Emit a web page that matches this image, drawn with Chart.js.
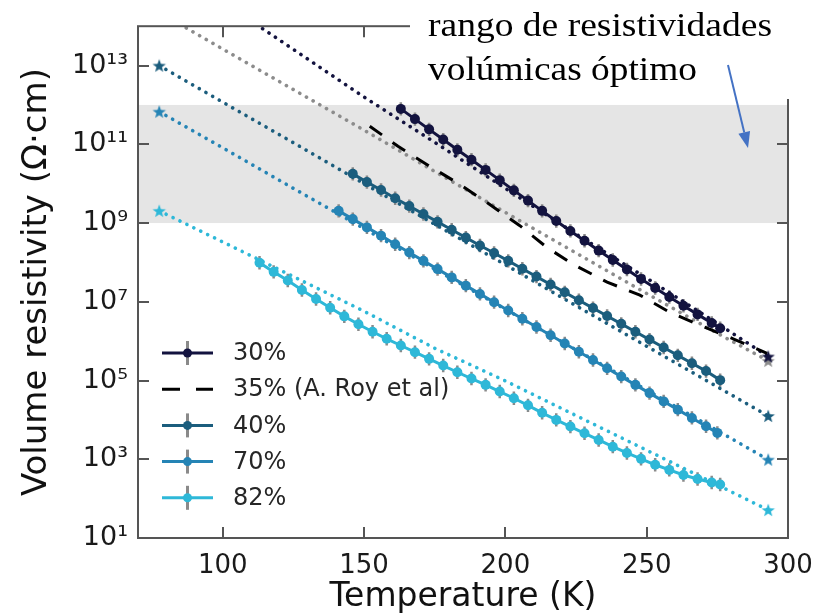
<!DOCTYPE html>
<html>
<head>
<meta charset="utf-8">
<script src="https://cdn.jsdelivr.net/npm/chart.js@4.4.0/dist/chart.umd.min.js"></script>
<style>
  html, body { margin: 0; padding: 0; background: #fff; }
</style>
</head>
<body>
<canvas id="chart" width="829" height="616"></canvas>
<script>
// ============================================================
// Volume resistivity vs temperature (log scale)
// Values are log10(resistivity / Ω·cm).
// ============================================================

// --- measured series (solid line + markers + error bars) ---
const t30   = [163, 168, 173, 178, 183, 188, 193, 198, 203, 208, 213, 218, 223, 228, 233, 238, 243, 248, 253, 258, 263, 268, 273, 276];
const log30 = [11.90, 11.64, 11.38, 11.12, 10.86, 10.61, 10.35, 10.09, 9.83, 9.57, 9.31, 9.05, 8.80, 8.55, 8.30, 8.06, 7.82, 7.58, 7.35, 7.12, 6.90, 6.68, 6.46, 6.33];

const t40   = [146, 151, 156, 161, 166, 171, 176, 181, 186, 191, 196, 201, 206, 211, 216, 221, 226, 231, 236, 241, 246, 251, 256, 261, 266, 271, 276];
const log40 = [10.25, 10.04, 9.84, 9.63, 9.43, 9.23, 9.03, 8.83, 8.63, 8.43, 8.24, 8.04, 7.84, 7.64, 7.44, 7.24, 7.04, 6.84, 6.64, 6.44, 6.24, 6.04, 5.84, 5.64, 5.44, 5.24, 5.01];

const t70   = [141, 146, 151, 156, 161, 166, 171, 176, 181, 186, 191, 196, 201, 206, 211, 216, 221, 226, 231, 236, 241, 246, 251, 256, 261, 266, 271, 275];
const log70 = [9.31, 9.10, 8.89, 8.68, 8.46, 8.25, 8.04, 7.83, 7.62, 7.41, 7.20, 6.99, 6.78, 6.57, 6.36, 6.15, 5.94, 5.73, 5.52, 5.31, 5.10, 4.89, 4.68, 4.47, 4.26, 4.05, 3.84, 3.67];

const t82   = [113, 118, 123, 128, 133, 138, 143, 148, 153, 158, 163, 168, 173, 178, 183, 188, 193, 198, 203, 208, 213, 218, 223, 228, 233, 238, 243, 248, 253, 258, 263, 268, 273, 276];
const log82 = [7.99, 7.76, 7.54, 7.30, 7.07, 6.85, 6.63, 6.43, 6.24, 6.06, 5.89, 5.72, 5.55, 5.38, 5.21, 5.05, 4.89, 4.72, 4.55, 4.37, 4.18, 4.00, 3.83, 3.66, 3.49, 3.32, 3.16, 3.01, 2.86, 2.73, 2.60, 2.50, 2.41, 2.36];

// --- 35% (A. Roy et al), dashed ---
const tRoy   = [152, 162, 172.6, 183, 193.5, 205, 214.7, 224, 236, 247.6, 258, 270, 280.6, 292.6];
const logRoy = [11.46, 10.95, 10.47, 10.02, 9.52, 8.94, 8.38, 7.95, 7.50, 7.17, 6.74, 6.37, 6.06, 5.69];

// --- fitted / extrapolated curves (dotted, stars at the ends) ---
const tFit     = [77.5, 100, 125, 150, 175, 200, 225, 250, 275, 293];
const fit30T   = [105, 113, 125, 150, 175, 200, 225, 250, 275, 293];
const fit30    = [14.37, 13.99, 13.41, 12.20, 11.05, 9.88, 8.72, 7.60, 6.45, 5.61];
const fitRoyT  = [80, 86, 100, 125, 150, 175, 200, 225, 250, 275, 293];
const fitRoy   = [14.25, 14.00, 13.42, 12.39, 11.36, 10.31, 9.27, 8.24, 7.21, 6.20, 5.50];
const fit40    = [13.00, 12.07, 11.04, 10.00, 8.97, 7.94, 6.90, 5.87, 4.84, 4.10];
const fit70    = [11.83, 10.91, 9.88, 8.86, 7.83, 6.81, 5.78, 4.76, 3.73, 2.99];
const fit82    = [9.31, 8.52, 7.64, 6.76, 5.82, 4.99, 4.11, 3.23, 2.35, 1.71];

// --- axes, band, legend ---
const xTicks = [100, 150, 200, 250, 300];
const yTicks = [1e1, 1e3, 1e5, 1e7, 1e9, 1e11, 1e13];
const band = [1e9, 1e12];   // optimal range (grey)
const legendLabels = ['30%', '35% (A. Roy et al)', '40%', '70%', '82%'];

const C30 = '#13133f', C40 = '#1b5d7d', C70 = '#2584b5', C82 = '#2eb8d8', CROY = '#000000', CFIT = '#8c8c8c';
const ERR_FACTOR = 10 ** 0.17;

const pts = (ts, logs) => ts.map((t, i) => ({ x: t, y: 10 ** logs[i] }));

function starImage(color) {
  const c = document.createElement('canvas');
  c.width = c.height = 16;
  const g = c.getContext('2d');
  g.fillStyle = color;
  g.beginPath();
  for (let i = 0; i < 10; i++) {
    const r = i % 2 ? 2.9 : 7;
    const a = -Math.PI / 2 + i * Math.PI / 5;
    g.lineTo(8 + r * Math.cos(a), 8.6 + r * Math.sin(a));
  }
  g.closePath();
  g.fill();
  return c;
}

function measured(data, color) {
  return {
    data, borderColor: color, backgroundColor: color, borderWidth: 3,
    pointRadius: 5, pointBorderWidth: 0, pointBackgroundColor: color,
    errorBars: true, order: 1
  };
}

function fitted(data, color) {
  const star = starImage(color);
  return {
    data, borderColor: color, borderWidth: 3.6, borderDash: [0.1, 7.6], borderCapStyle: 'round',
    pointStyle: star, pointBorderWidth: 0,
    pointRadius: c => (c.dataIndex === 0 || c.dataIndex === c.dataset.data.length - 1 ? 6 : 0),
    order: 2
  };
}

const sup = s => String(s).replace(/\d/g, d => '⁰¹²³⁴⁵⁶⁷⁸⁹'[d]);

// ============================================================
// drawing helpers: band, error bars, spines, legend, annotation
// ============================================================
const decorations = {
  id: 'decorations',
  beforeDatasetsDraw(chart) {
    const { ctx, chartArea: a, scales: { x, y } } = chart;
    const yt = y.getPixelForValue(band[1]), yb = y.getPixelForValue(band[0]);
    ctx.save();
    ctx.fillStyle = '#e5e5e5';
    ctx.fillRect(a.left, yt, a.right - a.left, yb - yt);

    ctx.beginPath();
    ctx.rect(a.left, a.top, a.right - a.left, a.bottom - a.top);
    ctx.clip();
    ctx.strokeStyle = '#8a8a8a';
    ctx.lineWidth = 2.5;
    chart.data.datasets.forEach(ds => {
      if (!ds.errorBars) return;
      ds.data.forEach(p => {
        const px = x.getPixelForValue(p.x);
        ctx.beginPath();
        ctx.moveTo(px, y.getPixelForValue(p.y * ERR_FACTOR));
        ctx.lineTo(px, y.getPixelForValue(p.y / ERR_FACTOR));
        ctx.stroke();
      });
    });
    ctx.restore();
  },
  afterDraw(chart) {
    const { ctx, chartArea: a, scales: { x, y } } = chart;
    ctx.save();

    // spines + inward ticks
    ctx.strokeStyle = '#555';
    ctx.lineWidth = 2;
    ctx.strokeRect(a.left, a.top, a.right - a.left, a.bottom - a.top);
    ctx.beginPath();
    xTicks.forEach(v => {
      const px = Math.round(x.getPixelForValue(v));
      ctx.moveTo(px, a.bottom); ctx.lineTo(px, a.bottom - 11);
      ctx.moveTo(px, a.top); ctx.lineTo(px, a.top + 11);
    });
    yTicks.forEach(v => {
      const py = Math.round(y.getPixelForValue(v));
      ctx.moveTo(a.left, py); ctx.lineTo(a.left + 11, py);
      ctx.moveTo(a.right, py); ctx.lineTo(a.right - 11, py);
    });
    ctx.stroke();

    // legend (no frame), lower left inside the axes
    const colors = [C30, CROY, C40, C70, C82];
    ctx.font = '24px "DejaVu Sans"';
    ctx.textBaseline = 'middle';
    legendLabels.forEach((label, i) => {
      const cy = 353 + i * 36.2;
      ctx.lineWidth = 3;
      ctx.strokeStyle = colors[i];
      ctx.beginPath();
      if (i === 1) {
        ctx.moveTo(162, cy); ctx.lineTo(180, cy);
        ctx.moveTo(196, cy); ctx.lineTo(213, cy);
        ctx.stroke();
      } else {
        ctx.moveTo(162, cy); ctx.lineTo(213, cy);
        ctx.stroke();
        ctx.strokeStyle = '#8a8a8a';
        ctx.beginPath();
        ctx.moveTo(187.5, cy - 12); ctx.lineTo(187.5, cy + 12);
        ctx.stroke();
        ctx.fillStyle = colors[i];
        ctx.beginPath();
        ctx.arc(187.5, cy, 4.5, 0, Math.PI * 2);
        ctx.fill();
      }
      ctx.fillStyle = '#262626';
      ctx.fillText(label, 233, cy + 1);
    });

    // white text box over the top-right corner
    ctx.fillStyle = '#ffffff';
    ctx.fillRect(410, 0, chart.width - 410, 99);

    ctx.fillStyle = '#000';
    ctx.textBaseline = 'alphabetic';
    ctx.font = '34px "Liberation Serif", "Times New Roman", serif';
    [['rango de resistividades', 428, 36, 344], ['volúmicas óptimo', 428, 80, 269]].forEach(([s, tx, ty, w]) => {
      const k = w / ctx.measureText(s).width;
      ctx.save();
      ctx.translate(tx, ty);
      ctx.scale(k, 1);
      ctx.fillText(s, 0, 0);
      ctx.restore();
    });

    // blue arrow into the band
    const x0 = 728, y0 = 65, x1 = 748, y1 = 148;
    const len = Math.hypot(x1 - x0, y1 - y0), ux = (x1 - x0) / len, uy = (y1 - y0) / len;
    const bx = x1 - 16 * ux, by = y1 - 16 * uy;
    ctx.strokeStyle = '#4472c4';
    ctx.fillStyle = '#4472c4';
    ctx.lineWidth = 2;
    ctx.beginPath();
    ctx.moveTo(x0, y0); ctx.lineTo(bx, by);
    ctx.stroke();
    ctx.beginPath();
    ctx.moveTo(x1, y1);
    ctx.lineTo(bx - 6 * uy, by + 6 * ux);
    ctx.lineTo(bx + 6 * uy, by - 6 * ux);
    ctx.closePath();
    ctx.fill();

    ctx.restore();
  }
};

new Chart(document.getElementById('chart'), {
  type: 'line',
  data: {
    datasets: [
      measured(pts(t30, log30), C30),
      { data: pts(tRoy, logRoy), borderColor: CROY, borderWidth: 3, borderDash: [15, 13], pointRadius: 0, order: 1 },
      measured(pts(t40, log40), C40),
      measured(pts(t70, log70), C70),
      measured(pts(t82, log82), C82),
      fitted(pts(fit30T, fit30), C30),
      fitted(pts(fitRoyT, fitRoy), CFIT),
      fitted(pts(tFit, fit40), C40),
      fitted(pts(tFit, fit70), C70),
      fitted(pts(tFit, fit82), C82)
    ]
  },
  options: {
    responsive: false,
    animation: false,
    layout: { padding: { left: 0, right: 41, top: 22, bottom: 0 } },
    elements: { line: { tension: 0, fill: false } },
    plugins: { legend: { display: false }, tooltip: { enabled: false } },
    scales: {
      x: {
        type: 'linear', min: 70, max: 300,
        afterBuildTicks: s => { s.ticks = xTicks.map(v => ({ value: v })); },
        afterFit: s => { s.height = 78; },
        grid: { display: false, drawTicks: false },
        border: { display: false },
        ticks: { padding: 13, color: '#1a1a1a', font: { family: 'DejaVu Sans', size: 26 }, maxRotation: 0 },
        title: {
          display: true, text: 'Temperature (K)', color: '#111',
          font: { family: 'DejaVu Sans', size: 33, lineHeight: 1.1 },
          padding: { top: 0, bottom: 0 }
        }
      },
      y: {
        type: 'logarithmic', min: 1e1, max: 1e14,
        afterBuildTicks: s => { s.ticks = yTicks.map(v => ({ value: v })); },
        afterFit: s => { s.width = 138; },
        grid: { display: false, drawTicks: false },
        border: { display: false },
        ticks: {
          autoSkip: false, padding: 10, color: '#1a1a1a',
          font: { family: 'DejaVu Sans', size: 27 },
          callback: v => '10' + sup(Math.round(Math.log10(v)))
        },
        title: {
          display: true, text: 'Volume resistivity (Ω·cm)', color: '#111',
          font: { family: 'DejaVu Sans', size: 34, lineHeight: 1.2 },
          padding: { top: 17, bottom: 0 }
        }
      }
    }
  },
  plugins: [decorations]
});
</script>
</body>
</html>
